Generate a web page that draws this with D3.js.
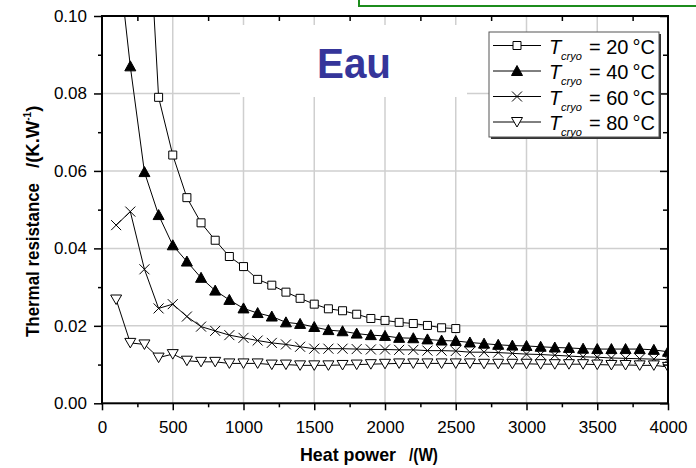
<!DOCTYPE html>
<html>
<head>
<meta charset="utf-8">
<script src="https://cdn.jsdelivr.net/npm/d3@7"></script>
<style>
  body { margin: 0; background: #fff; }
  svg { display: block; font-family: "Liberation Sans", Arial, sans-serif; }
</style>
</head>
<body>
<svg id="chart" width="696" height="468"></svg>
<script>
// Heat power (W) at which each run was measured
const power20 = [300, 400, 500, 600, 700, 800, 900, 1000, 1100, 1200, 1300, 1400, 1500,
  1600, 1700, 1800, 1900, 2000, 2100, 2200, 2300, 2400, 2500];
const power = [100, 200, 300, 400, 500, 600, 700, 800, 900, 1000, 1100, 1200, 1300, 1400,
  1500, 1600, 1700, 1800, 1900, 2000, 2100, 2200, 2300, 2400, 2500, 2600, 2700, 2800,
  2900, 3000, 3100, 3200, 3300, 3400, 3500, 3600, 3700, 3800, 3900, 4000];

// Thermal resistance (K/W) for each cryostat temperature
const r20 = [0.145, 0.0790, 0.0641, 0.0531, 0.0466, 0.0421, 0.0379, 0.0353, 0.0320, 0.0305,
  0.0287, 0.0271, 0.0256, 0.0244, 0.0239, 0.0230, 0.0219, 0.0214, 0.0209, 0.0206, 0.0201,
  0.0195, 0.0193];
const r40 = [0.120, 0.0870, 0.0597, 0.0486, 0.0408, 0.0366, 0.0324, 0.0291, 0.0267, 0.0245,
  0.0233, 0.0224, 0.0209, 0.0205, 0.0197, 0.0189, 0.0186, 0.0180, 0.0176, 0.0174, 0.0169,
  0.0168, 0.0165, 0.0162, 0.0161, 0.0157, 0.0154, 0.0151, 0.0149, 0.0148, 0.0146, 0.0144,
  0.0143, 0.0141, 0.0140, 0.0140, 0.0140, 0.0140, 0.0138, 0.0133];
const r60 = [0.0460, 0.0495, 0.0346, 0.0245, 0.0256, 0.0224, 0.0198, 0.0187, 0.0176, 0.0169,
  0.0162, 0.0156, 0.0152, 0.0146, 0.0141, 0.0141, 0.0141, 0.0140, 0.0139, 0.0139, 0.0138,
  0.0138, 0.0136, 0.0136, 0.0135, 0.0132, 0.0132, 0.0131, 0.0129, 0.0127, 0.0126, 0.0124,
  0.0122, 0.0120, 0.0119, 0.0117, 0.0116, 0.0115, 0.0114, 0.0113];
const r80 = [0.0268, 0.0156, 0.0152, 0.0118, 0.0127, 0.0110, 0.0107, 0.0107, 0.0103, 0.0103,
  0.0103, 0.0100, 0.0100, 0.0098, 0.0098, 0.0098, 0.0099, 0.0100, 0.0101, 0.0102, 0.0103,
  0.0103, 0.0103, 0.0103, 0.0103, 0.0103, 0.0102, 0.0102, 0.0102, 0.0102, 0.0101, 0.0101,
  0.0101, 0.0101, 0.0100, 0.0099, 0.0099, 0.0098, 0.0098, 0.0094];

const cryoTemps = ["20", "40", "60", "80"];
const xTicks = [0, 500, 1000, 1500, 2000, 2500, 3000, 3500, 4000];
const xMinor = [250, 750, 1250, 1750, 2250, 2750, 3250, 3750];
const yTicks = [0, 0.02, 0.04, 0.06, 0.08, 0.10];
const yMinor = [0.01, 0.03, 0.05, 0.07, 0.09];

const svg = d3.select("#chart");
const x = d3.scaleLinear().domain([0, 4000]).range([102, 668]);
const y = d3.scaleLinear().domain([0, 0.1]).range([403.3, 16]);
const [x0, x1] = x.range();
const [yb, yt] = y.range();

svg.append("rect").attr("width", 696).attr("height", 468).attr("fill", "#fff");

// green framed box running off the top edge
svg.append("rect")
  .attr("x", 359).attr("y", -10).attr("width", 400).attr("height", 16)
  .attr("fill", "#fff").attr("stroke", "#1c8c1c").attr("stroke-width", 2);

// grid
const grid = svg.append("g").attr("stroke", "#cfcfcf").attr("stroke-width", 1.5);
grid.selectAll(".gx").data(xTicks.filter(d => d > 0 && d < 4000)).join("line")
  .attr("x1", d => x(d)).attr("x2", d => x(d)).attr("y1", yt).attr("y2", yb);
grid.selectAll(".gy").data(yTicks.filter(d => d > 0 && d < 0.1)).join("line")
  .attr("x1", x0).attr("x2", x1).attr("y1", d => y(d)).attr("y2", d => y(d));

// blank patch behind the title word
svg.append("rect").attr("x", 240).attr("y", 25).attr("width", 227).attr("height", 72).attr("fill", "#fff");
svg.append("text")
  .attr("x", 317).attr("y", 78)
  .attr("font-size", 42).attr("font-weight", "bold").attr("fill", "#35359a")
  .attr("textLength", 74).attr("lengthAdjust", "spacingAndGlyphs")
  .text("Eau");

// marker shapes
function markerPath(kind) {
  switch (kind) {
    case "square": return "M-4,-4H4V4H-4Z";
    case "up": return "M0,-5.5L5.5,4.5H-5.5Z";
    case "down": return "M0,5L5.5,-4.5H-5.5Z";
    case "cross": return "M-5,-5L5,5M-5,5L5,-5";
  }
}
const markerStyle = {
  square: { fill: "#fff", stroke: "#000" },
  up: { fill: "#000", stroke: "#000" },
  down: { fill: "#fff", stroke: "#000" },
  cross: { fill: "none", stroke: "#000" }
};

const series = [
  { xs: power20, ys: r20, kind: "square" },
  { xs: power, ys: r40, kind: "up" },
  { xs: power, ys: r60, kind: "cross" },
  { xs: power, ys: r80, kind: "down" }
];

svg.append("clipPath").attr("id", "plotClip")
  .append("rect").attr("x", x0).attr("y", yt).attr("width", x1 - x0).attr("height", yb - yt);

const plot = svg.append("g").attr("clip-path", "url(#plotClip)");
const line = d3.line().x(d => x(d[0])).y(d => y(d[1]));

series.forEach(s => {
  const pts = s.xs.map((p, i) => [p, s.ys[i]]);
  plot.append("path").datum(pts)
    .attr("d", line).attr("fill", "none").attr("stroke", "#000").attr("stroke-width", 1);
});
series.forEach(s => {
  const pts = s.xs.map((p, i) => [p, s.ys[i]]);
  plot.append("g").selectAll("path").data(pts).join("path")
    .attr("transform", d => `translate(${x(d[0])},${y(d[1])})`)
    .attr("d", markerPath(s.kind))
    .attr("fill", markerStyle[s.kind].fill)
    .attr("stroke", markerStyle[s.kind].stroke)
    .attr("stroke-width", 1);
});

// axes
function styleAxis(g) {
  g.select(".domain").remove();
  g.selectAll(".tick line").attr("stroke", "#000").attr("stroke-width", 1.5);
  g.selectAll("text").attr("font-size", 17).attr("fill", "#000")
    .attr("font-family", "Liberation Sans, Arial, sans-serif");
}
svg.append("g").attr("transform", `translate(0,${yb})`)
  .call(d3.axisBottom(x).tickValues(xTicks).tickSize(7).tickPadding(11).tickFormat(d3.format("d")))
  .call(styleAxis);
svg.append("g").attr("transform", `translate(0,${yb})`)
  .call(d3.axisBottom(x).tickValues(xMinor).tickSize(4).tickFormat(""))
  .call(styleAxis);
svg.append("g").attr("transform", `translate(${x0},0)`)
  .call(d3.axisLeft(y).tickValues(yTicks).tickSize(8).tickPadding(7).tickFormat(d3.format(".2f")))
  .call(styleAxis);
svg.append("g").attr("transform", `translate(${x0},0)`)
  .call(d3.axisLeft(y).tickValues(yMinor).tickSize(4).tickFormat(""))
  .call(styleAxis);
svg.append("g").attr("transform", `translate(0,${yt})`)
  .call(d3.axisTop(x).tickValues(xMinor).tickSize(-5).tickFormat(""))
  .call(styleAxis);
svg.append("g").attr("transform", `translate(${x1},0)`)
  .call(d3.axisRight(y).tickValues(yMinor).tickSize(-5).tickFormat(""))
  .call(styleAxis);
svg.append("g").attr("transform", `translate(${x1},0)`)
  .call(d3.axisRight(y).tickValues(yTicks).tickSize(-8).tickFormat(""))
  .call(styleAxis);

svg.append("rect")
  .attr("x", x0).attr("y", yt).attr("width", x1 - x0).attr("height", yb - yt)
  .attr("fill", "none").attr("stroke", "#000").attr("stroke-width", 2);

// axis titles
svg.append("text").attr("x", 300).attr("y", 461)
  .attr("font-size", 18.5).attr("font-weight", "bold").attr("fill", "#000")
  .attr("textLength", 96).attr("lengthAdjust", "spacingAndGlyphs")
  .text("Heat power");
svg.append("text").attr("x", 409).attr("y", 461)
  .attr("font-size", 18.5).attr("font-weight", "bold").attr("fill", "#000")
  .attr("textLength", 29).attr("lengthAdjust", "spacingAndGlyphs")
  .text("/(W)");

const yTitle = svg.append("g").attr("transform", "translate(39,0) rotate(-90)")
  .attr("font-weight", "bold").attr("fill", "#000");
yTitle.append("text").attr("x", -337).attr("y", 0).attr("font-size", 18.5)
  .attr("textLength", 154).attr("lengthAdjust", "spacingAndGlyphs")
  .text("Thermal resistance");
const unit = yTitle.append("text").attr("x", -168).attr("y", 0).attr("font-size", 18.5);
unit.append("tspan").text("/(K.W");
unit.append("tspan").attr("font-size", 10).attr("dy", -8).text("-1");
unit.append("tspan").attr("dy", 8).text(")");

// legend
const lg = svg.append("g");
lg.append("rect").attr("x", 491).attr("y", 34).attr("width", 170).attr("height", 105).attr("fill", "#333");
lg.append("rect").attr("x", 489).attr("y", 32).attr("width", 170).attr("height", 105)
  .attr("fill", "#fff").attr("stroke", "#555").attr("stroke-width", 1);
series.forEach((s, i) => {
  const ry = 45.5 + i * 25.5;
  lg.append("line").attr("x1", 493).attr("x2", 541).attr("y1", ry).attr("y2", ry)
    .attr("stroke", "#000").attr("stroke-width", 1);
  lg.append("path").attr("transform", `translate(517,${ry})`).attr("d", markerPath(s.kind))
    .attr("fill", markerStyle[s.kind].fill).attr("stroke", markerStyle[s.kind].stroke);
  lg.append("text").attr("x", 549).attr("y", ry + 8)
    .attr("font-size", 20).attr("font-style", "italic").text("T");
  lg.append("text").attr("x", 561).attr("y", ry + 14)
    .attr("font-size", 11).attr("font-style", "italic").text("cryo");
  lg.append("text").attr("x", 589).attr("y", ry + 8)
    .attr("font-size", 20).text(`= ${cryoTemps[i]}\u2009°C`);
});
</script>
</body>
</html>
